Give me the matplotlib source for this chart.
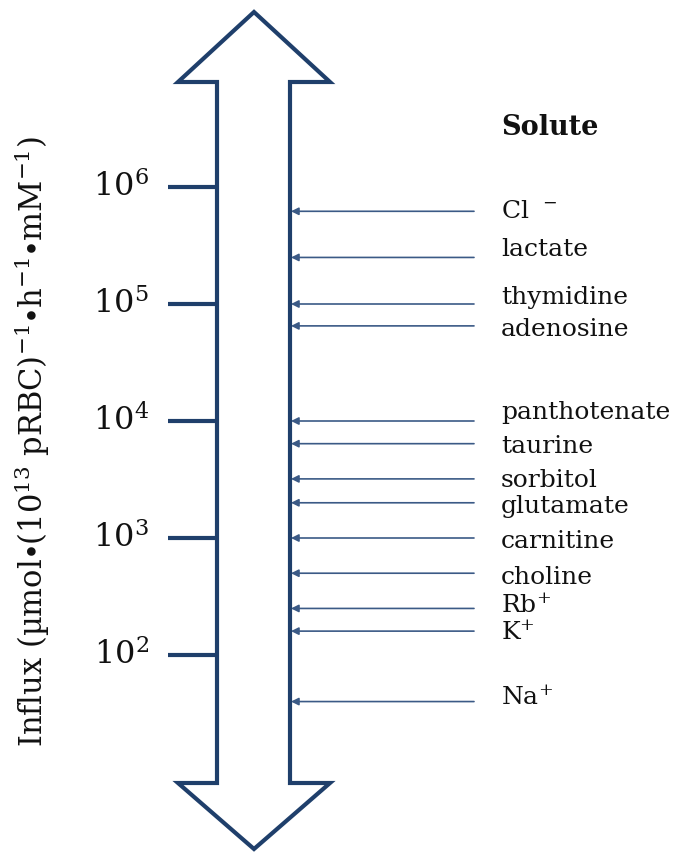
import matplotlib
matplotlib.use("Agg")
import matplotlib.pyplot as plt
from matplotlib.patches import Polygon
from matplotlib.transforms import offset_copy

plt.rcParams['mathtext.fontset'] = 'custom'
plt.rcParams['mathtext.rm'] = 'DejaVu Serif'
plt.rcParams['mathtext.it'] = 'DejaVu Serif:italic'
plt.rcParams['mathtext.bf'] = 'DejaVu Serif:bold'

# ---- data ----
solutes = ['Cl$^{\\ \\ -}$', 'lactate', 'thymidine', 'adenosine', 'panthotenate', 'taurine',
           'sorbitol', 'glutamate', 'carnitine', 'choline', 'Rb$^{+}$', 'K$^{+}$', 'Na$^{+}$']
influx = [6.2e5, 2.5e5, 1.0e5, 6.5e4, 1.0e4, 6.4e3, 3.2e3, 2.0e3, 1.0e3, 5.0e2, 2.5e2, 1.6e2, 40]
tick_values = [1e2, 1e3, 1e4, 1e5, 1e6]
tick_labels = ['$10^{2}$', '$10^{3}$', '$10^{4}$', '$10^{5}$', '$10^{6}$']
ylabel = 'Influx (µmol$\\bullet$(10$^{13}$ pRBC)$^{-1}$$\\bullet$h$^{-1}$$\\bullet$mM$^{-1}$)'
header = 'Solute'

# label nudges in pixels (layout only, + = up)
label_nudge = [0, 8, 6, -4, 8, -3, -2, -4, -4, -4, 3, -2, 4]

# ---- layout ----
W, H = 699, 852
fig = plt.figure(figsize=(W / 100, H / 100), dpi=100)
ax = fig.add_axes([0, 0, 1, 1])
ax.set_xlim(0, W)
ax.set_yscale('log')
# pixel row 187 -> 1e6, 117 px per decade
def pv(py):
    return 10 ** (6 - (py - 187) / 117)
ax.set_ylim(pv(H), pv(0))
ax.axis('off')

navy = '#1f3f6b'
thin = '#3b5a86'

# big double-headed arrow
sl, sr, hl, hr, cx = 217, 290, 178, 330, 254
verts = [(cx, pv(12)), (hr, pv(82)), (sr, pv(82)), (sr, pv(783)), (hr, pv(783)),
         (cx, pv(849)), (hl, pv(783)), (sl, pv(783)), (sl, pv(82)), (hl, pv(82))]
ax.add_patch(Polygon(verts, closed=True, facecolor='white', edgecolor=navy, lw=3.0,
                     joinstyle='miter', zorder=2))

# ticks
ax.hlines(tick_values, 168, sl, colors=navy, lw=3.0, zorder=3)
for v, lab in zip(tick_values, tick_labels):
    ax.text(149, v, lab, ha='right', va='center', fontsize=23, color='#111111')

# solute arrows
for name, v, dy in zip(solutes, influx, label_nudge):
    ax.annotate('', xy=(sr + 1, v), xytext=(474, v),
                arrowprops=dict(arrowstyle='-|>', color=thin, lw=1.2,
                                mutation_scale=11, shrinkA=0, shrinkB=0), zorder=4)
    tr = offset_copy(ax.transData, fig=fig, x=0, y=dy, units='dots')
    ax.text(501, v, name, ha='left', va='center', fontsize=18, color='#111111',
            family='DejaVu Serif', transform=tr)

ax.text(501, pv(128), header, ha='left', va='center', fontsize=19.5, fontweight='bold',
        family='DejaVu Serif', color='#111111')

ax.text(32, pv(442), ylabel, rotation=90, ha='center', va='center', fontsize=22,
        family='DejaVu Serif', color='#111111')

fig.savefig('out.png', dpi=100)
